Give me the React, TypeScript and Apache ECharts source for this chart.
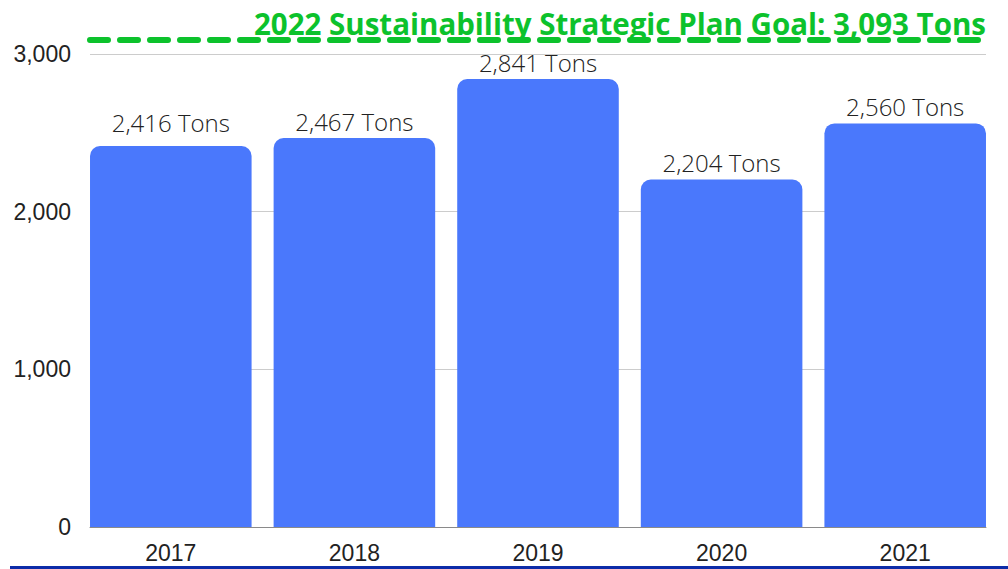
import React, { useEffect, useRef } from "react";
import * as echarts from "echarts";

const years = ["2017", "2018", "2019", "2020", "2021"];
const tons = [2416, 2467, 2841, 2204, 2560];
const goalValue = 3093;
const goalLabel = "2022 Sustainability Strategic Plan Goal: 3,093 Tons";
const yMax = 3200;
const yInterval = 1000;

export default function App() {
  const ref = useRef<HTMLDivElement>(null);
  useEffect(() => {
    if (!ref.current) return;
    const chart = echarts.init(ref.current, null, { renderer: "svg" });
    const top = 22.5;
    const bottom = 42;
    chart.setOption({
      animation: false,
      backgroundColor: "#ffffff",
      grid: [
        { left: 79, right: 11, top, bottom },
        { left: 90, right: 22, top, bottom },
      ],
      xAxis: [
        {
          type: "category",
          data: years,
          gridIndex: 0,
          axisLine: { show: false },
          axisTick: { show: false },
          axisLabel: {
            color: "#222",
            fontFamily: "Liberation Sans, Arial, sans-serif",
            fontSize: 23,
            margin: 14,
          },
        },
        {
          type: "category",
          data: years,
          gridIndex: 1,
          axisLine: { show: true, lineStyle: { color: "#8a8a8a", width: 1 } },
          axisTick: { show: false },
          axisLabel: { show: false },
        },
      ],
      yAxis: [
        {
          type: "value",
          gridIndex: 0,
          min: 0,
          max: yMax,
          interval: yInterval,
          show: false,
          splitLine: { show: false },
        },
        {
          type: "value",
          gridIndex: 1,
          min: 0,
          max: yMax,
          interval: yInterval,
          axisLine: { show: false },
          axisTick: { show: false },
          splitLine: { show: true, showMaxLine: false, lineStyle: { color: "#cccccc", width: 1 } },
          axisLabel: {
            showMaxLabel: false,
            color: "#222",
            fontFamily: "Liberation Sans, Arial, sans-serif",
            fontSize: 23,
            margin: 19,
            formatter: (v: number) => (v % yInterval === 0 ? v.toLocaleString("en-US") : ""),
          },
        },
      ],
      series: [
        {
          type: "bar",
          xAxisIndex: 0,
          yAxisIndex: 0,
          data: tons.map((v, i) => ({
            value: v,
            label: i === 0 ? { distance: 12 } : undefined,
          })),
          barCategoryGap: "12%",
          itemStyle: { color: "#4a78fc", borderRadius: [10, 10, 0, 0] },
          label: {
            show: true,
            position: "top",
            distance: 5,
            color: "#222",
            fontFamily: "Open Sans, sans-serif",
            fontWeight: 300,
            fontSize: 24,
            formatter: (p: any) => `${Number(p.value).toLocaleString("en-US")} Tons`,
          },
        },
        {
          type: "line",
          xAxisIndex: 1,
          yAxisIndex: 1,
          data: [],
          z: 5,
          markLine: {
            silent: true,
            symbol: ["none", "none"],
            lineStyle: { color: "#0cc22c", width: 6, type: [18, 12], cap: "round", opacity: 1 },
            label: {
              show: true,
              position: "insideEndTop",
              distance: [0, 1],
              formatter: goalLabel,
              color: "#0cc22c",
              fontFamily: "Open Sans, sans-serif",
              fontWeight: "bold",
              fontSize: 29.5,
            },
            data: [{ yAxis: goalValue }],
          },
        },
      ],
      graphic: [
        {
          type: "rect",
          left: 10,
          top: 566,
          shape: { width: 998, height: 3 },
          style: { fill: "#0d2ca8" },
        },
      ],
    });
    return () => chart.dispose();
  }, []);
  return (
    <div
      ref={ref}
      style={{ position: "absolute", left: 0, top: 0, width: 1008, height: 569 }}
    />
  );
}
